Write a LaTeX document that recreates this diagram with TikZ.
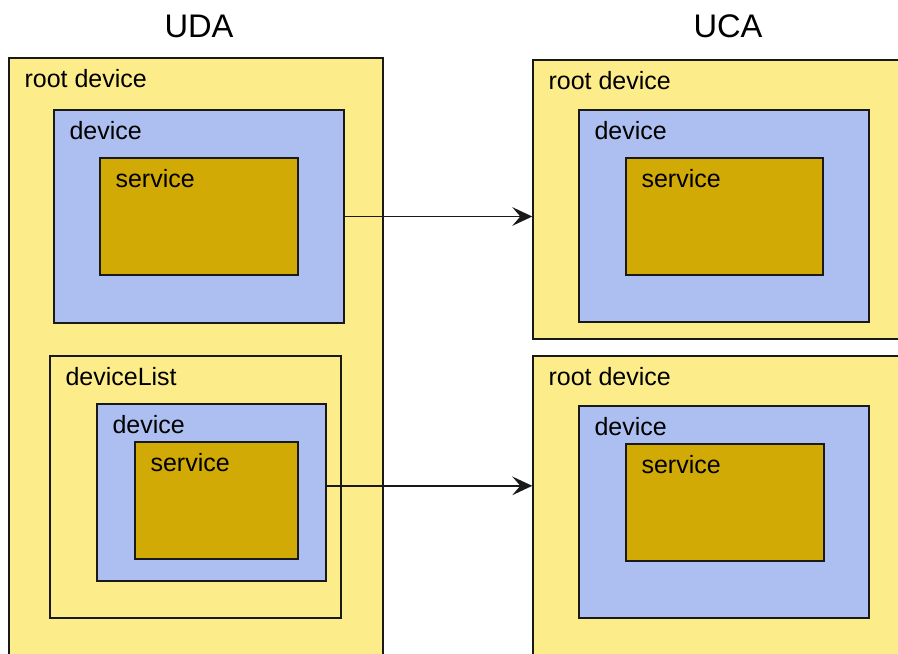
\documentclass[tikz,border=0pt]{standalone}
\usepackage{fontspec}
\setmainfont{Liberation Sans}
\usepackage{tikz}
\usetikzlibrary{arrows.meta, positioning, fit}
\definecolor{rootYellow}{RGB}{253,237,138}
\definecolor{devBlue}{RGB}{173,191,240}
\definecolor{servGold}{RGB}{209,170,5}
\definecolor{lineBlack}{gray}{0.1}

\begin{document}
\begin{tikzpicture}[x=0.75pt, y=-0.75pt,
        box/.style={draw=lineBlack, line width=1.1pt, inner sep=0pt},
        tag/.style={anchor=base west, inner sep=0pt, font=\fontsize{18.75}{22}\selectfont},
        head/.style={anchor=base, inner sep=0pt, font=\fontsize{24.5}{28}\selectfont},
        link/.style={-{Stealth[length=15pt, width=14pt, inset=6pt]}, lineBlack, line width=1pt}]
        \useasboundingbox (0,0) rectangle (898,653);
        \clip (0,0) rectangle (898,653);
        % UDA side
        \node[head] (uda) at (199,37) {UDA};
        \node[box, fill=rootYellow, fit={(9,58) (383,700)}] (rootL) {};
        \node[box, fill=devBlue, fit={(54,110) (344,323)}] (devA) {};
        \node[box, fill=servGold, fit={(100,158) (298,275)}] (servA) {};
        \node[box, fill=rootYellow, fit={(50,356) (341,618)}] (devList) {};
        \node[box, fill=devBlue, fit={(97,404) (326,581)}] (devB) {};
        \node[box, fill=servGold, fit={(135,442) (298,559)}] (servB) {};
        % UCA side
        \node[head] (uca) at (728,37) {UCA};
        \node[box, fill=rootYellow, fit={(533,60) (950,339)}] (rootR1) {};
        \node[box, fill=devBlue, fit={(579,110) (869,322)}] (devC) {};
        \node[box, fill=servGold, fit={(626,158) (823,275)}] (servC) {};
        \node[box, fill=rootYellow, fit={(533,356) (950,700)}] (rootR2) {};
        \node[box, fill=devBlue, fit={(579,406) (869,618)}] (devD) {};
        \node[box, fill=servGold, fit={(626,444) (824,561)}] (servD) {};
        % labels
        \foreach \b/\t in {rootL/root device, devA/device, servA/service, devList/deviceList, devB/device, servB/service,
                rootR1/root device, devC/device, servC/service, rootR2/root device, devD/device, servD/service} {
            \node[tag] (\b-tag) at ([shift={(16,30)}]\b.north west) {\t};
        }
        % mapping
        \draw[link] (devA.east) -- (devA.east -| rootR1.west);
        \draw[link] ([yshift=5pt]devB.east) -- ([yshift=5pt]devB.east -| rootR2.west);
    \end{tikzpicture}
\end{document}
